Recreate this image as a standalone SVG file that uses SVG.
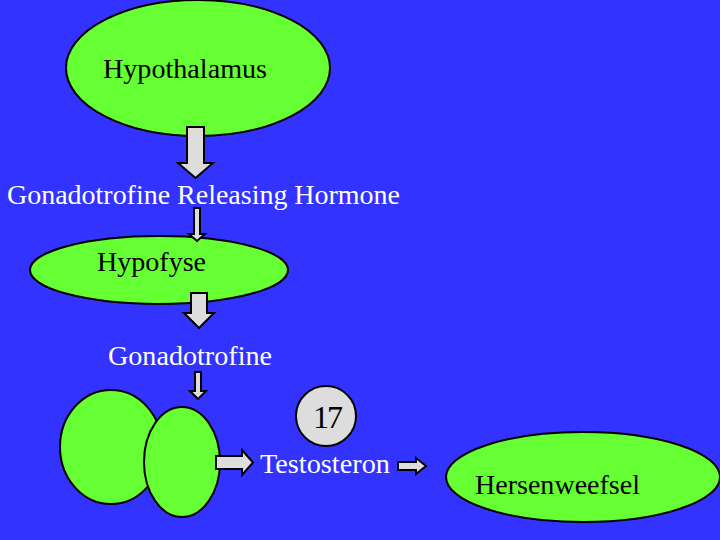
<svg xmlns="http://www.w3.org/2000/svg" width="720" height="540" viewBox="0 0 720 540">
<style>
.node{fill:#66FF33;stroke:#000;stroke-width:2}
.circ{fill:#DDDDDD;stroke:#000;stroke-width:2}
.arr{fill:#DDDDDD;stroke:#000;stroke-width:2;stroke-linejoin:miter}
text{font-family:"Liberation Serif","Times New Roman",serif;font-size:28px}
.w{fill:#FFFFFF}
.b{fill:#000000}
</style>
<rect x="0" y="0" width="720" height="540" fill="#3333FF"/>
<g id="hypothalamus">
<ellipse class="node" cx="198" cy="68" rx="132" ry="68"/>
<text class="b" x="103" y="78" textLength="164" lengthAdjust="spacingAndGlyphs">Hypothalamus</text>
</g>
<g id="grh">
<text class="w" x="7" y="204" textLength="393" lengthAdjust="spacingAndGlyphs">Gonadotrofine Releasing Hormone</text>
</g>
<g id="hypofyse">
<ellipse class="node" cx="159" cy="270" rx="129" ry="34"/>
<text class="b" x="97" y="271" textLength="109" lengthAdjust="spacingAndGlyphs">Hypofyse</text>
</g>
<g id="gonadotrofine">
<text class="w" x="108" y="365" textLength="164" lengthAdjust="spacingAndGlyphs">Gonadotrofine</text>
</g>
<g id="testis-left">
<ellipse class="node" cx="111" cy="447" rx="51" ry="57"/>
</g>
<g id="testis-right">
<ellipse class="node" cx="182" cy="462" rx="38" ry="55"/>
</g>
<g id="n17">
<circle class="circ" cx="326" cy="416" r="30"/>
<text class="b" x="313" y="428" style="font-size:32px" textLength="30">17</text>
</g>
<g id="testosteron">
<text class="w" x="260" y="473" textLength="130" lengthAdjust="spacingAndGlyphs">Testosteron</text>
</g>
<g id="hersenweefsel">
<ellipse class="node" cx="583" cy="477" rx="137" ry="45"/>
<text class="b" x="475" y="494" textLength="165" lengthAdjust="spacingAndGlyphs">Hersenweefsel</text>
</g>
<g id="connectors">
<polygon class="arr" points="187,127 204,127 204,163 213,163 195.5,178 178,163 187,163"/>
<polygon class="arr" points="194,208 200,208 200,234 205,234 197,241 189,234 194,234"/>
<polygon class="arr" points="191,293 207,293 207,313 214,313 199,328 184,313 191,313"/>
<polygon class="arr" points="195,372 201,372 201,391 206,391 198,399 190,391 195,391"/>
<polygon class="arr" points="216,456 242,456 242,450 253,462.5 242,475 242,469 216,469"/>
<polygon class="arr" points="398,462 416,462 416,458 426,466 416,474 416,470 398,470"/>
</g>
</svg>
